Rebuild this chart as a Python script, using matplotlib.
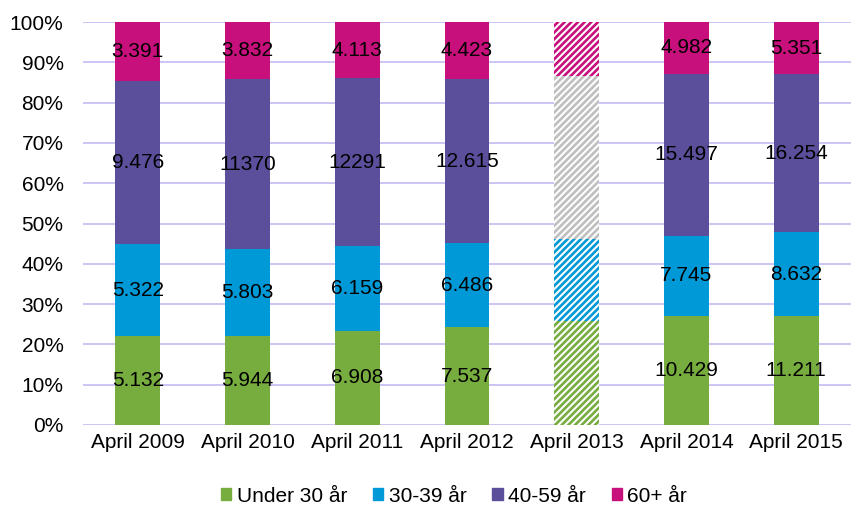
import matplotlib.pyplot as plt
import numpy as np

plt.rcParams['font.family'] = ['Liberation Sans', 'DejaVu Sans']

years = ["April 2009", "April 2010", "April 2011", "April 2012",
         "April 2013", "April 2014", "April 2015"]
groups = ["Under 30 år", "30-39 år", "40-59 år", "60+ år"]
under30 = [5.132, 5.944, 6.908, 7.537, 8.2, 10.429, 11.211]
age30_39 = [5.322, 5.803, 6.159, 6.486, 6.5, 7.745, 8.632]
age40_59 = [9.476, 11.370, 12.291, 12.615, 12.9, 15.497, 16.254]
age60 = [3.391, 3.832, 4.113, 4.423, 4.3, 4.982, 5.351]
labels = [
    ["5.132", "5.944", "6.908", "7.537", "", "10.429", "11.211"],
    ["5.322", "5.803", "6.159", "6.486", "", "7.745", "8.632"],
    ["9.476", "11370", "12291", "12.615", "", "15.497", "16.254"],
    ["3.391", "3.832", "4.113", "4.423", "", "4.982", "5.351"],
]
hatched_idx = 4  # April 2013 is shown hatched, no labels

colors = ["#77AC3F", "#0099D8", "#5B4F9B", "#C8107C"]
hatch_colors = ["#77AC3F", "#0099D8", "#BFBFBF", "#C8107C"]

data = np.array([under30, age30_39, age40_59, age60])
shares = data / data.sum(axis=0) * 100

fig = plt.figure(figsize=(8.63, 5.08), dpi=100)
ax = fig.add_axes([83 / 863, 1 - 425 / 508, 768 / 863, 403 / 508])

x = np.arange(len(years))
width = 0.41
plt.rcParams['hatch.linewidth'] = 1.9
bottom = np.zeros(len(years))
for i, grp in enumerate(groups):
    for j in range(len(years)):
        if j == hatched_idx:
            ax.bar(x[j], shares[i, j], width, bottom=bottom[j], color="white",
                   edgecolor=hatch_colors[i], hatch="/////", linewidth=0, zorder=2)
        else:
            ax.bar(x[j], shares[i, j], width, bottom=bottom[j], color=colors[i],
                   linewidth=0, zorder=2)
        if labels[i][j]:
            ax.text(x[j], bottom[j] + shares[i, j] / 2, labels[i][j],
                    ha="center", va="center", fontsize=15, color="black", zorder=3)
    bottom += shares[i]

ax.set_xlim(-0.5, len(years) - 0.5)
ax.set_ylim(0, 100)
ax.set_yticks(np.arange(0, 101, 10))
ax.set_yticklabels([f"{v}%" for v in range(0, 101, 10)], fontsize=15)
ax.set_xticks(x)
ax.set_xticklabels(years, fontsize=15)
ax.tick_params(axis="x", length=0, pad=6)
ax.tick_params(axis="y", length=0, pad=14)
ax.grid(axis="y", color="#C8C0F4", linewidth=1.3, zorder=0)
ax.set_axisbelow(True)
for s in ax.spines.values():
    s.set_visible(False)

handles = [plt.Rectangle((0, 0), 1, 1, color=c) for c in colors]
fig.legend(handles, groups, loc="center", bbox_to_anchor=(454 / 863, 1 - 496 / 508),
           ncol=4, frameon=False, fontsize=15, handlelength=0.5, handleheight=0.5,
           handletextpad=0.25, columnspacing=1.25)

fig.savefig("out.png", dpi=100)
